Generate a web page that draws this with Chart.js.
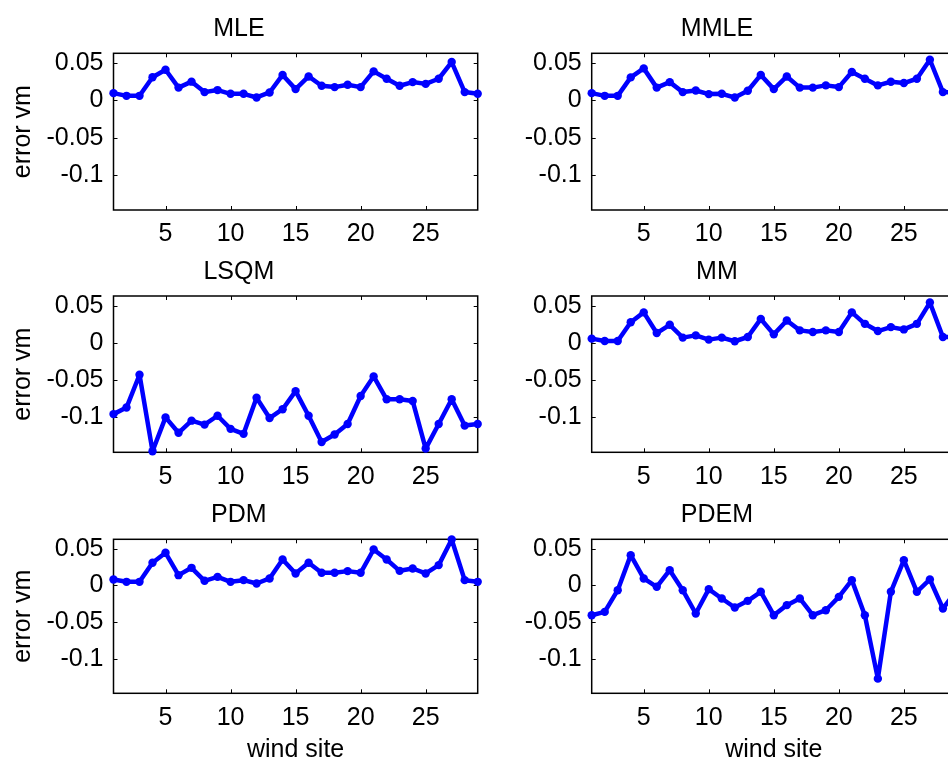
<!DOCTYPE html>
<html>
<head>
<meta charset="utf-8">
<script src="https://cdn.jsdelivr.net/npm/chart.js@4.4.1/dist/chart.umd.min.js"></script>
<style>
  html, body { margin: 0; padding: 0; background: #fff; overflow: hidden; width: 948px; height: 762px; }
  .cell { position: absolute; }
</style>
</head>
<body>
<div class="cell" id="c0"><canvas id="k0"></canvas></div>
<div class="cell" id="c1"><canvas id="k1"></canvas></div>
<div class="cell" id="c2"><canvas id="k2"></canvas></div>
<div class="cell" id="c3"><canvas id="k3"></canvas></div>
<div class="cell" id="c4"><canvas id="k4"></canvas></div>
<div class="cell" id="c5"><canvas id="k5"></canvas></div>
<script>
// wind sites on the x axis
const sites = [1, 2, 3, 4, 5, 6, 7, 8, 9, 10, 11, 12, 13, 14, 15, 16, 17, 18, 19, 20, 21, 22, 23, 24, 25, 26, 27, 28, 29];
const xTicks = [5, 10, 15, 20, 25];
const yTicks = [-0.1, -0.05, 0, 0.05];

// error vm per method
const mle  = [0.0096, 0.006, 0.006, 0.031, 0.041, 0.017, 0.025, 0.011, 0.0137, 0.0087, 0.0087, 0.0038, 0.0105, 0.034, 0.015, 0.032, 0.0195, 0.0177, 0.0208, 0.0177, 0.0388, 0.0289, 0.0195, 0.0244, 0.022, 0.0289, 0.0513, 0.011, 0.0087];
const mmle = [0.0096, 0.006, 0.006, 0.0307, 0.0428, 0.017, 0.0244, 0.011, 0.0132, 0.0083, 0.0087, 0.0038, 0.0128, 0.034, 0.015, 0.032, 0.017, 0.017, 0.02, 0.0177, 0.0379, 0.0289, 0.02, 0.0249, 0.0231, 0.0289, 0.0544, 0.011, 0.0105];
const lsqm = [-0.0957, -0.0869, -0.0428, -0.1455, -0.1001, -0.1208, -0.1045, -0.1098, -0.0979, -0.1155, -0.1222, -0.0736, -0.101, -0.0891, -0.0648, -0.0979, -0.1332, -0.123, -0.1089, -0.0714, -0.045, -0.0758, -0.0758, -0.078, -0.142, -0.1089, -0.0758, -0.1111, -0.1089];
const mm   = [0.0057, 0.0026, 0.0026, 0.0278, 0.041, 0.0132, 0.0243, 0.0071, 0.0101, 0.0044, 0.0071, 0.0022, 0.0079, 0.0322, 0.0115, 0.03, 0.0168, 0.0146, 0.0168, 0.0146, 0.041, 0.0256, 0.0159, 0.0212, 0.0181, 0.0256, 0.0542, 0.0079, 0.0079];
const pdm  = [0.0082, 0.005, 0.005, 0.031, 0.0446, 0.0141, 0.0241, 0.0064, 0.0118, 0.005, 0.0073, 0.0027, 0.0096, 0.0355, 0.0164, 0.031, 0.0173, 0.0173, 0.0196, 0.0173, 0.0491, 0.0355, 0.02, 0.0232, 0.0164, 0.0278, 0.0628, 0.0073, 0.005];
const pdem = [-0.0405, -0.036, -0.0064, 0.0414, 0.0096, -0.0018, 0.0209, -0.0064, -0.0382, -0.005, -0.0177, -0.03, -0.0209, -0.0086, -0.0405, -0.0268, -0.0177, -0.0405, -0.0337, -0.0155, 0.0073, -0.0405, -0.127, -0.0086, 0.0346, -0.0086, 0.0082, -0.0314, -0.008];

const yMin = -0.147, yMax = 0.063;
const FONT = "'Liberation Sans', Arial, Helvetica, sans-serif";

// box and inward tick marks like matlab axes
const boxTicks = {
    id: 'boxTicks',
    beforeDatasetsDraw(chart) {
        const { ctx, chartArea: a, scales: { x, y } } = chart;
        ctx.save();
        ctx.strokeStyle = '#000';
        ctx.lineWidth = 1;
        ctx.beginPath();
        x.ticks.forEach(t => {
            const px = Math.round(x.getPixelForValue(t.value)) + 0.5;
            ctx.moveTo(px, a.bottom); ctx.lineTo(px, a.bottom - 4);
            ctx.moveTo(px, a.top); ctx.lineTo(px, a.top + 4);
        });
        y.ticks.forEach(t => {
            const py = Math.round(y.getPixelForValue(t.value)) + 0.5;
            ctx.moveTo(a.left, py); ctx.lineTo(a.left + 4, py);
            ctx.moveTo(a.right, py); ctx.lineTo(a.right - 4, py);
        });
        ctx.stroke();
        ctx.lineWidth = 1.5;
        ctx.strokeRect(a.left, a.top, a.right - a.left, a.bottom - a.top);
        ctx.restore();
    }
};

// one entry per subplot: absolute cell box and where the axes must land
const cells = [
    { title: 'MLE',  data: mle,  left: 0,   top: 0,   w: 490, h: 255, axL: 113.5, axR: 477.7, axT: 53.3,  axB: 210,   tc: 29.5,  yTitle: true,  xTitle: false },
    { title: 'MMLE', data: mmle, left: 478, top: 0,   w: 490, h: 255, axL: 591.7, axR: 955.9, axT: 53.3,  axB: 210,   tc: 29.5,  yTitle: false, xTitle: false },
    { title: 'LSQM', data: lsqm, left: 0,   top: 240, w: 490, h: 255, axL: 113.5, axR: 477.7, axT: 296,   axB: 452.3, tc: 272,   yTitle: true,  xTitle: false },
    { title: 'MM',   data: mm,   left: 478, top: 240, w: 490, h: 255, axL: 591.7, axR: 955.9, axT: 296,   axB: 452.3, tc: 272,   yTitle: false, xTitle: false },
    { title: 'PDM',  data: pdm,  left: 0,   top: 483, w: 490, h: 290, axL: 113.5, axR: 477.7, axT: 539.3, axB: 693.3, tc: 515.5, yTitle: true,  xTitle: true },
    { title: 'PDEM', data: pdem, left: 478, top: 483, w: 490, h: 290, axL: 591.7, axR: 955.9, axT: 539.3, axB: 693.3, tc: 515.5, yTitle: false, xTitle: true }
];

cells.forEach((c, i) => {
    const div = document.getElementById('c' + i);
    div.style.left = c.left + 'px';
    div.style.top = c.top + 'px';
    div.style.width = c.w + 'px';
    div.style.height = c.h + 'px';
    const cv = document.getElementById('k' + i);
    cv.width = c.w;
    cv.height = c.h;

    const padTop = c.tc - c.top - 15;
    const padBottom = c.axT - c.top - 30 - padTop;

    new Chart(cv.getContext('2d'), {
        type: 'line',
        data: {
            datasets: [{
                data: sites.map((s, k) => ({ x: s, y: c.data[k] })),
                borderColor: '#0000ff',
                backgroundColor: '#0000ff',
                borderWidth: 4.5,
                borderJoinStyle: 'round',
                borderCapStyle: 'round',
                pointRadius: 4.2,
                pointBorderWidth: 0,
                pointBackgroundColor: '#0000ff',
                tension: 0,
                clip: false
            }]
        },
        options: {
            responsive: false,
            animation: false,
            devicePixelRatio: 1,
            layout: { padding: { left: 0, top: 0, bottom: 0, right: (c.left + c.w) - c.axR } },
            plugins: {
                legend: { display: false },
                tooltip: { enabled: false },
                title: {
                    display: true,
                    text: c.title,
                    color: '#000',
                    font: { family: FONT, size: 25, weight: 'normal', lineHeight: 1.2 },
                    padding: { top: padTop, bottom: padBottom }
                }
            },
            scales: {
                x: {
                    type: 'linear',
                    min: 1,
                    max: 29,
                    grid: { display: false, drawTicks: false },
                    border: { display: false },
                    afterBuildTicks: s => { s.ticks = xTicks.map(v => ({ value: v })); },
                    afterFit: s => { s.height = (c.top + c.h) - c.axB; },
                    ticks: {
                        color: '#000',
                        padding: 9.5,
                        maxRotation: 0,
                        font: { family: FONT, size: 25, lineHeight: 1.2 },
                        callback: v => String(v)
                    },
                    title: {
                        display: c.xTitle,
                        text: 'wind site',
                        color: '#000',
                        font: { family: FONT, size: 25, lineHeight: 1.2 },
                        padding: { top: 0, bottom: (c.top + c.h) - 750 - 15 }
                    }
                },
                y: {
                    type: 'linear',
                    min: yMin,
                    max: yMax,
                    grid: { display: false, drawTicks: false },
                    border: { display: false },
                    afterBuildTicks: s => { s.ticks = yTicks.map(v => ({ value: v })); },
                    afterFit: s => { s.width = c.axL - c.left; },
                    ticks: {
                        color: '#000',
                        padding: 10,
                        font: { family: FONT, size: 25, lineHeight: 1.2 },
                        callback: v => String(v)
                    },
                    title: {
                        display: c.yTitle,
                        text: 'error vm',
                        color: '#000',
                        font: { family: FONT, size: 25, lineHeight: 1.2 },
                        padding: { top: 8, bottom: 0 }
                    }
                }
            }
        },
        plugins: [boxTicks]
    });
});
</script>
</body>
</html>
